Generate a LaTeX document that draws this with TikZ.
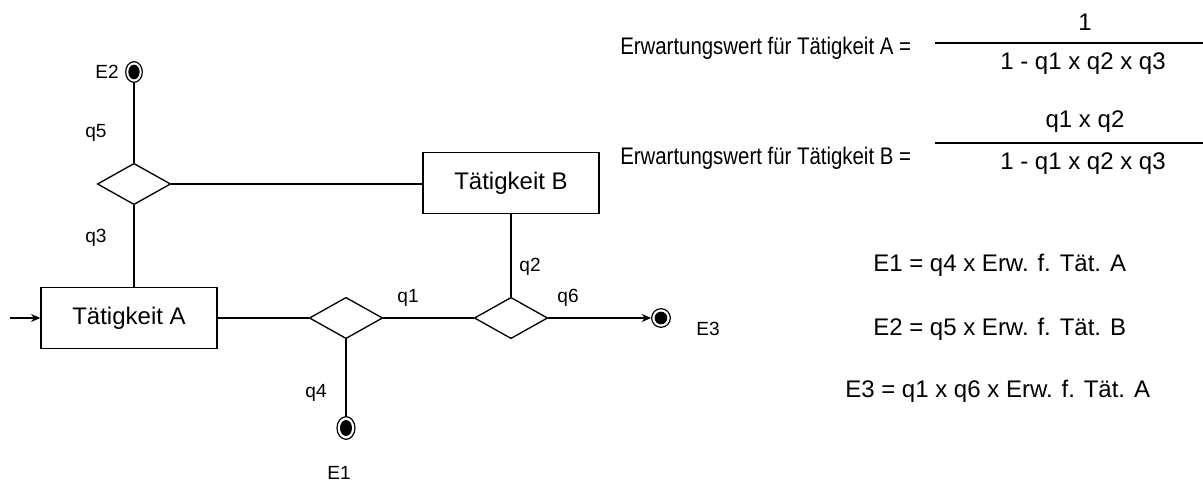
\documentclass[tikz,border=0pt]{standalone}
\usepackage{fontspec}
\setmainfont{Liberation Sans}
\usetikzlibrary{shapes.geometric,arrows.meta}
\begin{document}
\begin{tikzpicture}[x=0.75pt,y=-0.75pt,
  ln/.style={line width=1.1pt,draw=black},
  box/.style={draw,line width=1pt,minimum width=132pt,minimum height=46pt,inner sep=0pt,font=\fontsize{18}{20}\selectfont},
  dec/.style={draw,diamond,line width=1pt,minimum width=55pt,minimum height=31pt,inner sep=0pt},
  endo/.style={draw,ellipse,line width=0.9pt,fill=white,inner sep=0pt},
  endi/.style={fill=black,ellipse,inner sep=0pt},
  lbl/.style={font=\fontsize{14.3}{16}\selectfont,inner sep=0pt},
  big/.style={font=\fontsize{18}{20}\selectfont,inner sep=0pt},
  bar/.style={line width=2.2pt},
  arr/.style={-{Stealth[length=7pt,width=6pt]}}
]
\useasboundingbox (0,0) rectangle (1203,484);

% boxes
\node[box] (A) at (129,318) {Tätigkeit A};
\node[box] (B) at (511,183) {Tätigkeit B};

% decisions
\node[dec] (d1) at (134,184) {};
\node[dec] (d2) at (346,318) {};
\node[dec] (d3) at (511,318) {};

% end states
\node[endo,minimum width=12.5pt,minimum height=15.5pt] (e2) at (134,72) {};
\node[endi,minimum width=8.5pt,minimum height=11pt] at (e2) {};
\node[endo,minimum width=13.5pt,minimum height=17pt] (e1) at (346,428) {};
\node[endi,minimum width=9pt,minimum height=12pt] at (e1) {};
\node[endo,minimum width=14pt,minimum height=14pt] (e3) at (661,318) {};
\node[endi,minimum width=9.5pt,minimum height=9.5pt] at (e3) {};

% input
\coordinate (in) at (10,318);

% connectors
\draw[ln,arr] (in) -- (A.west);
\draw[ln] (d1.south) -- (d1.south |- A.north);
\draw[ln] (d1.north) -- (e2.south);
\draw[ln] (d1.east) -- (d1.east -| B.west);
\draw[ln] (B.south) -- (d3.north);
\draw[ln] (A.east) -- (d2.west);
\draw[ln] (d2.east) -- (d3.west);
\draw[ln,arr] (d3.east) -- (e3.west);
\draw[ln] (d2.south) -- (e1.north);

% labels
\node[lbl] (lE2) at (107,72) {E2};
\node[lbl] (lE1) at (339,473) {E1};
\node[lbl] (lE3) at (708,329) {E3};
\node[lbl] (lq5) at (96,133) {q5};
\node[lbl] (lq3) at (96,238) {q3};
\node[lbl] (lq2) at (530,267) {q2};
\node[lbl] (lq1) at (408,298) {q1};
\node[lbl] (lq6) at (568,298) {q6};
\node[lbl] (lq4) at (316,393) {q4};

% formulas
\node[big,anchor=west] (fA) at (620,48) {\scalebox{0.85}[1]{Erwartungswert für Tätigkeit A =}};
\node[big] (nA) at (1085,22) {1};
\coordinate (bA1) at (935,43);
\coordinate (bA2) at (1203,43);
\draw[bar] (bA1) -- (bA2);
\node[big] (zA) at (1083,64) {1 - q1 x q2 x q3};

\node[big,anchor=west] (fB) at (620,158) {\scalebox{0.85}[1]{Erwartungswert für Tätigkeit B =}};
\node[big] (nB) at (1085,122) {q1 x q2};
\coordinate (bB1) at (935,143);
\coordinate (bB2) at (1203,143);
\draw[bar] (bB1) -- (bB2);
\node[big] (zB) at (1083,164) {1 - q1 x q2 x q3};

\node[big,anchor=west] (E1f) at (873,265) {E1 = q4 x Erw. f. Tät. A};
\node[big,anchor=west] (E2f) at (873,329) {E2 = q5 x Erw. f. Tät. B};
\node[big,anchor=west] (E3f) at (845,391) {E3 = q1 x q6 x Erw. f. Tät. A};
\end{tikzpicture}
\end{document}
